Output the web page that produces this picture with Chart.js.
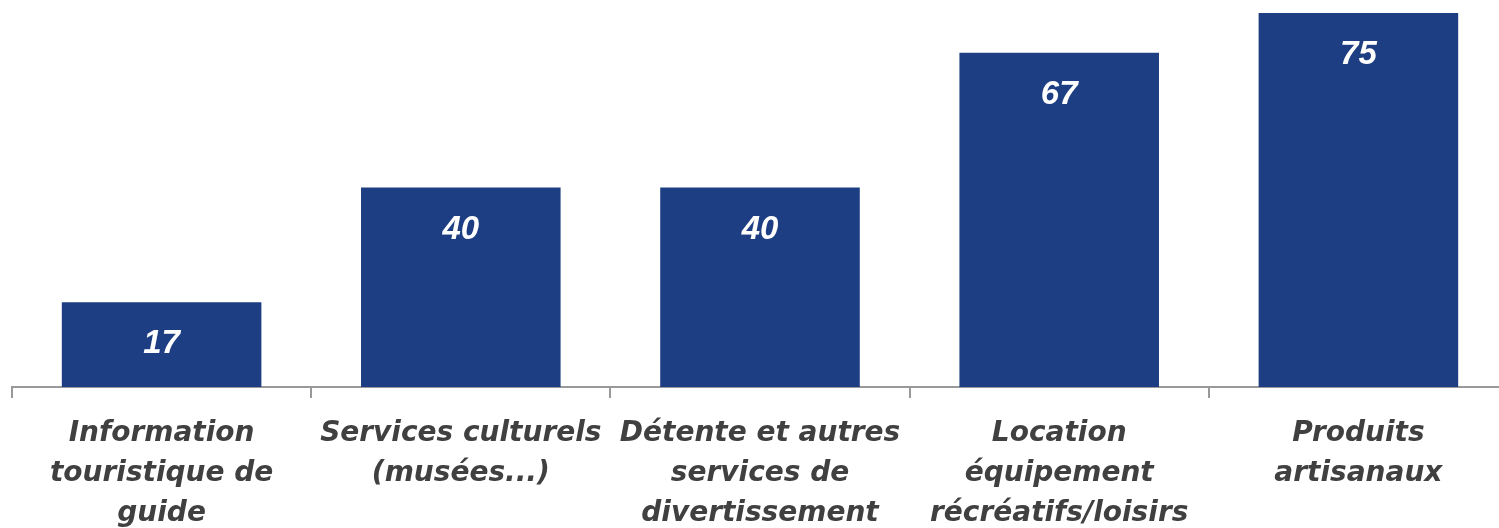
<!DOCTYPE html>
<html>
<head>
<meta charset="utf-8">
<script src="https://cdn.jsdelivr.net/npm/chart.js@4"></script>
<style>
  html, body { margin: 0; padding: 0; overflow: hidden; background: #fff; }
  #wrap { width: 1510px; height: 528px; }
</style>
</head>
<body>
<div id="wrap"><canvas id="chart"></canvas></div>
<script>
const categories = [
    ['Information', 'touristique de', 'guide'],
    ['Services culturels', '(musées...)'],
    ['Détente et autres', 'services de', 'divertissement'],
    ['Location', 'équipement', 'récréatifs/loisirs'],
    ['Produits', 'artisanaux']
];
const values = [17, 40, 40, 67, 75];

// white numbers drawn inside the top of each bar
const barLabels = {
    id: 'barLabels',
    afterDatasetsDraw(chart) {
        const c = chart.ctx;
        const meta = chart.getDatasetMeta(0);
        c.save();
        c.fillStyle = '#ffffff';
        c.font = 'italic bold 33px "Liberation Sans", Arial, sans-serif';
        c.textAlign = 'center';
        c.textBaseline = 'middle';
        meta.data.forEach((bar, i) => {
            c.fillText(values[i], bar.x, bar.y + 42);
        });
        c.restore();
    }
};

new Chart(document.getElementById('chart'), {
    type: 'bar',
    data: {
        labels: categories,
        datasets: [{
            data: values,
            backgroundColor: '#1d3e82',
            categoryPercentage: 1,
            barPercentage: 0.667
        }]
    },
    options: {
        responsive: true,
        maintainAspectRatio: false,
        animation: false,
        layout: { padding: { left: 12, right: 2, top: 0, bottom: 0 } },
        plugins: {
            legend: { display: false },
            tooltip: { enabled: false }
        },
        scales: {
            y: {
                display: false,
                min: 0,
                max: 77.6
            },
            x: {
                afterFit: function(scale) { scale.height = 141; },
                border: { color: '#999999', width: 2 },
                grid: {
                    offset: true,
                    drawOnChartArea: false,
                    color: '#999999',
                    lineWidth: 2,
                    tickLength: 11
                },
                ticks: {
                    autoSkip: false,
                    maxRotation: 0,
                    padding: 16,
                    color: '#404040',
                    font: { family: '"DejaVu Sans", sans-serif', size: 28, style: 'italic', weight: 'bold', lineHeight: 1.43 }
                }
            }
        }
    },
    plugins: [barLabels]
});
</script>
</body>
</html>
